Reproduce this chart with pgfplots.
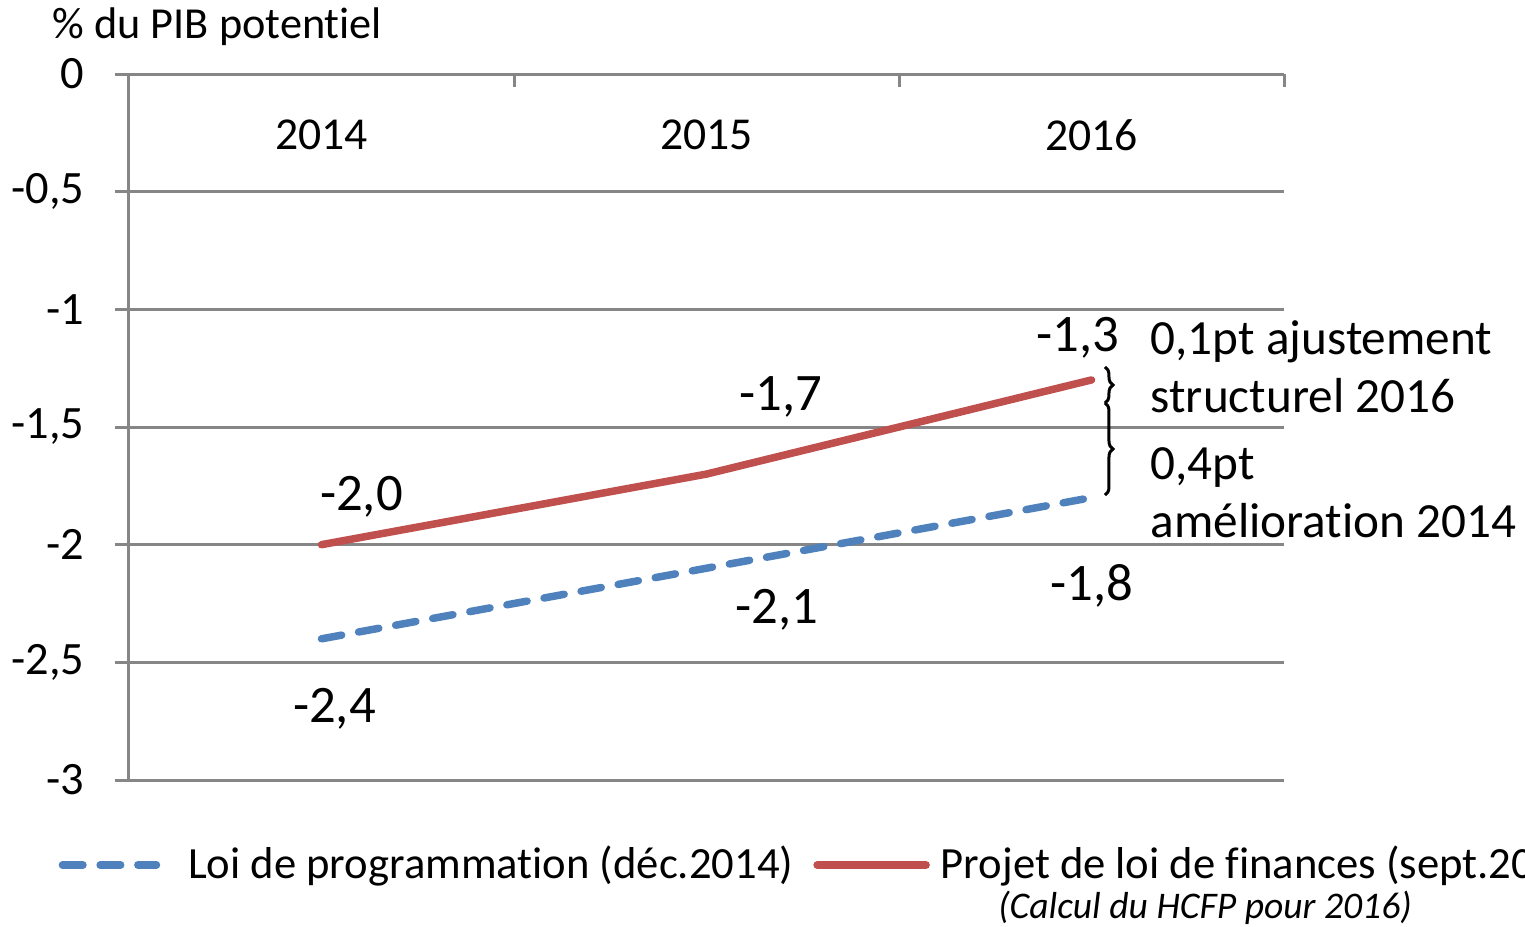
\documentclass[border=0pt]{standalone}
\usepackage{pgfplots}
\pgfplotsset{compat=1.18}
\usepackage{fontspec}
\setmainfont{Carlito}[Ligatures={NoCommon,NoRequired,NoContextual}, Contextuals=NoAlternate]
\usetikzlibrary{decorations.pathreplacing}

\definecolor{lfblue}{RGB}{79,129,189}
\definecolor{lfred}{RGB}{192,80,77}
\definecolor{gridgray}{RGB}{134,134,134}

\tikzset{
    blueline/.style={lfblue, line width=0.75mm, line cap=round, dash pattern=on 2.05mm off 1.72mm},
    redline/.style={lfred, line width=0.75mm, line cap=round},
}

% solde structurel, % du PIB potentiel ; dx/dy = decalage des etiquettes (mm)
\pgfplotstableread{
x  y     dx   dy
0  -2.4  1.3  -7.0
1  -2.1  7.0  -4.2
2  -1.8  0.0  -8.8
}\loiprog
\pgfplotstableread{
x  y     dx   dy
0  -2.0  4.0   4.8
1  -1.7  7.4   7.7
2  -1.3  -1.4  4.2
}\plf

\begin{document}
\fontsize{12.6pt}{15pt}\selectfont
\begin{tikzpicture}
\useasboundingbox (-12.9mm,-14.6mm) rectangle (139.6mm,78mm);
\begin{axis}[
    at={(0,0)}, anchor=south west,
    scale only axis,
    width=115.5mm, height=70.6mm,
    xmin=-0.5, xmax=2.5,
    ymin=-3, ymax=0,
    axis x line*=top,
    axis y line*=left,
    axis line style={gridgray, line width=0.3mm},
    xtick={0,1,2},
    xticklabels={2014,2015,2016},
    major x tick style={draw=none},
    minor xtick={0.5,1.5,2.5},
    minor tick length=1.3mm,
    minor x tick style={gridgray, line width=0.3mm},
    xticklabel style={anchor=center, inner sep=0pt, yshift=-6.1mm, font=\fontsize{13pt}{15pt}\selectfont},
    ytick={-3,-2.5,...,0},
    yticklabels={-3,{-2,5},-2,{-1,5},-1,{-0,5},0},
    yticklabel style={anchor=east, inner sep=0pt, xshift=-4.4mm, font=\fontsize{13.2pt}{15pt}\selectfont},
    tick align=inside,
    major tick length=1.4mm,
    ytick style={gridgray, line width=0.3mm, xshift=-1.4mm},
    ymajorgrids,
    grid style={gridgray, line width=0.3mm},
    clip=false,
    legend style={at={(0,0)}, anchor=west, xshift=-7.1mm, yshift=-8.5mm,
        draw=none, fill=none, inner sep=0pt, row sep=0pt,
        nodes={inner sep=0pt},
        font=\fontsize{12.7pt}{15pt}\selectfont,
        /tikz/every odd column/.append style={column sep=1.1mm},
        /tikz/every even column/.append style={column sep=2mm}},
    legend columns=-1,
    nodes near coords={\pgfmathprintnumber[fixed,fixed zerofill,precision=1,use comma,assume math mode=true]{\pgfplotspointmeta}},
    visualization depends on={\thisrow{dx} \as \dx},
    visualization depends on={\thisrow{dy} \as \dy},
    nodes near coords style={anchor=center, inner sep=0pt, text=black,
        font=\fontsize{15pt}{18pt}\selectfont,
        xshift=\dx mm, yshift=\dy mm},
]
\addplot[blueline,
    legend image code/.code={
        \draw[blueline] (0.4mm,0mm) -- (9.8mm,0mm);
        \path (11.5mm,0mm);}]
    table[x=x, y=y, meta=y] {\loiprog};
\addlegendentry{Loi de programmation (déc.2014)}
\addplot[redline,
    legend image code/.code={\draw[redline] (0.4mm,0mm) -- (11.3mm,0mm);}]
    table[x=x, y=y, meta=y] {\plf};
\addlegendentry{Projet de loi de finances (sept.2015)}

% titre de l'axe
\node[anchor=west, inner sep=0pt] at ([xshift=-7.7mm, yshift=4.7mm]rel axis cs:0,1) {\% du PIB potentiel};

% accolades et commentaires
\draw[black, line width=0.3mm, decorate, decoration={brace, amplitude=0.8mm}]
    (axis cs:2.035,-1.245) -- (axis cs:2.035,-1.398);
\draw[black, line width=0.3mm, decorate, decoration={brace, amplitude=0.8mm}]
    (axis cs:2.035,-1.398) -- (axis cs:2.035,-1.789);
\node[anchor=west, align=left, inner sep=0pt, font=\fontsize{14pt}{16.5pt}\selectfont]
    at (axis cs:2.152,-1.245) {0,1pt ajustement\\structurel 2016};
\node[anchor=west, align=left, inner sep=0pt, font=\fontsize{14pt}{16.5pt}\selectfont]
    at (axis cs:2.152,-1.781) {0,4pt\\amélioration 2014};

\node[inner sep=0pt, font=\fontsize{10.7pt}{12pt}\selectfont\itshape]
    at ([yshift=-12.8mm]axis cs:2.295,-3) {(Calcul du HCFP pour 2016)};
\end{axis}
\end{tikzpicture}
\end{document}
